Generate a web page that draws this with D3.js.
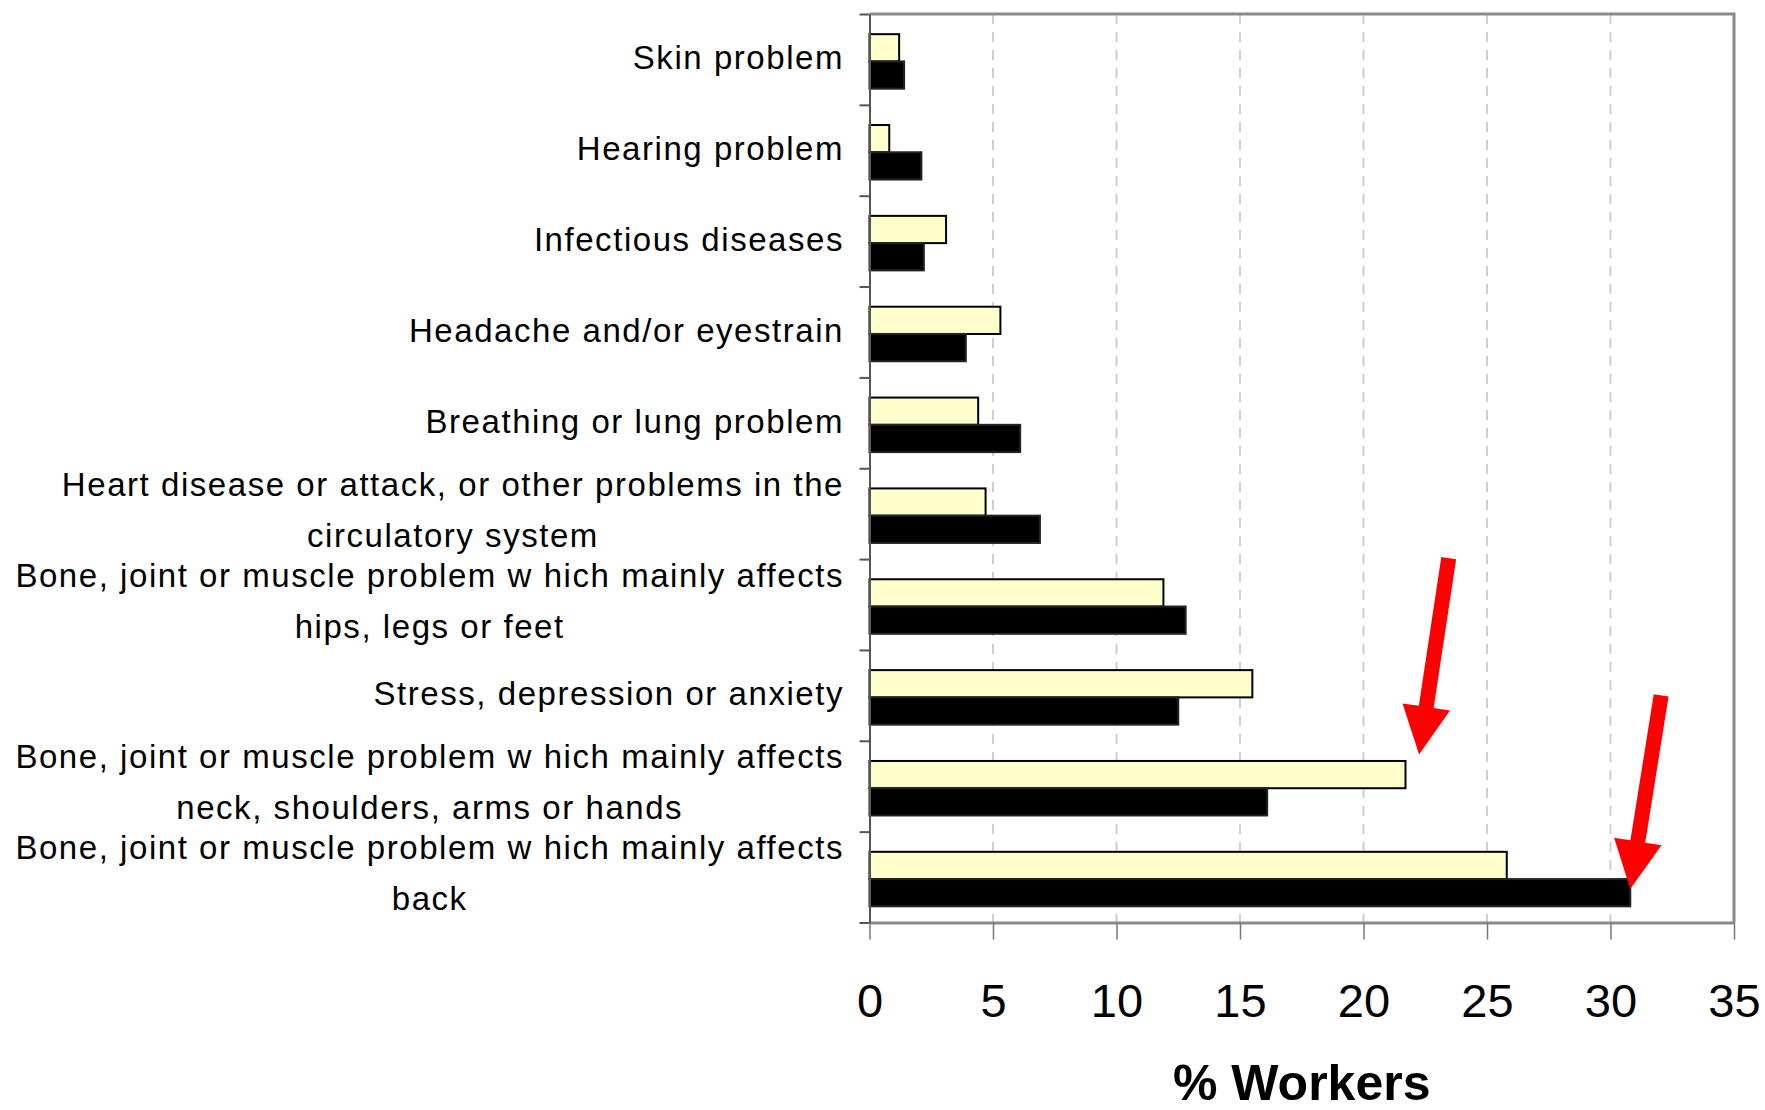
<!DOCTYPE html>
<html>
<head>
<meta charset="utf-8">
<script src="https://cdn.jsdelivr.net/npm/d3@7"></script>
<style>
  body { margin: 0; background: #fff; }
  text { font-family: "Liberation Sans", Arial, sans-serif; fill: #000; }
</style>
</head>
<body>
<svg id="chart" width="1765" height="1110"></svg>
<script>
// categories, top to bottom
var categories = [
  "skin", "hearing", "infectious", "headache", "breathing",
  "heart", "hips", "stress", "neck", "back"
];
// texte des etiquettes (une ligne par element)
var labelLines = [
  ["Skin problem"],
  ["Hearing problem"],
  ["Infectious diseases"],
  ["Headache and/or eyestrain"],
  ["Breathing or lung problem"],
  ["Heart disease or attack, or other problems in the", "circulatory system"],
  ["Bone, joint or muscle problem w hich mainly affects", "hips, legs or feet"],
  ["Stress, depression or anxiety"],
  ["Bone, joint or muscle problem w hich mainly affects", "neck, shoulders, arms or hands"],
  ["Bone, joint or muscle problem w hich mainly affects", "back"]
];
// % workers, light (cream) series and dark (black) series
var valuesLight = [1.2, 0.8, 3.1, 5.3, 4.4, 4.7, 11.9, 15.5, 21.7, 25.8];
var valuesDark  = [1.4, 2.1, 2.2, 3.9, 6.1, 6.9, 12.8, 12.5, 16.1, 30.8];
var xTicks = [0, 5, 10, 15, 20, 25, 30, 35];
var xTitle = "% Workers";
// fleches rouges : pointe en valeur (x) et position dans la bande, queue en valeur + hauteur en bandes
var arrows = [
  { cat: "neck", tipValue: 22.25, tipBand: 0.15, tailValue: 23.45, rise: 2.16 },
  { cat: "back", tipValue: 30.8, tipBand: 0.63, tailValue: 32.05, rise: 2.13 }
];

var svg = d3.select("#chart");
var plotL = 869.5, plotR = 1734, plotT = 14, plotB = 922.5;

var x = d3.scaleLinear().domain([0, 35]).range([plotL, plotR]);
var y = d3.scaleBand().domain(categories).range([plotT, plotB]);
var yEdge = d3.scaleLinear().domain([0, categories.length]).range([plotT, plotB]);

// grille pointillee
svg.append("g")
  .selectAll("line")
  .data(xTicks.filter(d => d > 0 && d < 35))
  .enter().append("line")
  .attr("x1", d => x(d)).attr("x2", d => x(d))
  .attr("y1", plotT).attr("y2", plotB)
  .attr("stroke", "#d0d0d0")
  .attr("stroke-width", 2)
  .attr("stroke-dasharray", "10,8");

// cadre haut et droite
svg.append("path")
  .attr("d", "M" + plotL + "," + plotT + "H" + plotR + "V" + plotB)
  .attr("fill", "none")
  .attr("stroke", "#8a8a8a")
  .attr("stroke-width", 3);

// barres
var bh = y.bandwidth() * 0.3;
var bars = svg.append("g");
categories.forEach(function(c, i) {
  var mid = y(c) + y.bandwidth() / 2 + 2;
  bars.append("rect")
    .attr("x", x(0)).attr("y", mid - bh)
    .attr("width", x(valuesLight[i]) - x(0)).attr("height", bh)
    .attr("fill", "#ffffcc").attr("stroke", "#000").attr("stroke-width", 2);
  bars.append("rect")
    .attr("x", x(0)).attr("y", mid)
    .attr("width", x(valuesDark[i]) - x(0)).attr("height", bh)
    .attr("fill", "#000").attr("stroke", "#222").attr("stroke-width", 2);
});

// axe x
var xAxis = svg.append("g")
  .attr("transform", "translate(0," + plotB + ")")
  .call(d3.axisBottom(x).tickValues(xTicks).tickSize(17).tickPadding(44).tickSizeOuter(0));
xAxis.select(".domain").attr("stroke", "#8a8a8a").attr("stroke-width", 3);
xAxis.selectAll(".tick line").attr("stroke", "#777").attr("stroke-width", 1.5);
xAxis.selectAll(".tick text")
  .style("font-family", '"Liberation Sans", Arial, sans-serif')
  .style("font-size", "47px")
  .attr("fill", "#000");

// axe y (graduations aux limites des categories)
var yAxis = svg.append("g")
  .attr("transform", "translate(" + plotL + ",0)")
  .call(d3.axisLeft(yEdge).ticks(categories.length).tickSize(10).tickFormat("").tickSizeOuter(0));
yAxis.select(".domain").attr("stroke", "#555").attr("stroke-width", 2);
yAxis.selectAll(".tick line").attr("stroke", "#555").attr("stroke-width", 2);

// etiquettes des categories
var labelRight = 844;
var labels = svg.append("g")
  .style("font-size", "33px")
  .style("letter-spacing", "1.55px");
categories.forEach(function(c, i) {
  var lines = labelLines[i];
  var mid = y(c) + y.bandwidth() / 2;
  var g = labels.append("g");
  var texts = lines.map(function(l, j) {
    var base = lines.length === 1 ? mid + 10 : mid - 18 + j * 51;
    return g.append("text").attr("y", base).text(l);
  });
  var w = d3.max(texts, t => t.node().getComputedTextLength());
  texts.forEach(function(t) {
    t.attr("x", labelRight - w / 2).attr("text-anchor", "middle");
  });
});

// titre axe x
svg.append("text")
  .attr("x", (plotL + plotR) / 2)
  .attr("y", 1100)
  .attr("text-anchor", "middle")
  .style("font-size", "50px")
  .style("font-weight", "bold")
  .text(xTitle);

// fleches rouges
var shaftW = 15, headW = 48, headL = 48;
arrows.forEach(function(a) {
  var tx = x(a.tipValue), ty = y(a.cat) + y.bandwidth() * a.tipBand;
  var sx = x(a.tailValue), sy = ty - y.step() * a.rise;
  var dx = tx - sx, dy = ty - sy, len = Math.sqrt(dx * dx + dy * dy);
  var ux = dx / len, uy = dy / len, px = -uy, py = ux;
  var bx = tx - ux * headL, by = ty - uy * headL;
  var pts = [
    [sx + px * shaftW / 2, sy + py * shaftW / 2],
    [bx + px * shaftW / 2, by + py * shaftW / 2],
    [bx + px * headW / 2, by + py * headW / 2],
    [tx, ty],
    [bx - px * headW / 2, by - py * headW / 2],
    [bx - px * shaftW / 2, by - py * shaftW / 2],
    [sx - px * shaftW / 2, sy - py * shaftW / 2]
  ];
  svg.append("polygon")
    .attr("points", pts.map(p => p.join(",")).join(" "))
    .attr("fill", "#ff0000");
});
</script>
</body>
</html>
